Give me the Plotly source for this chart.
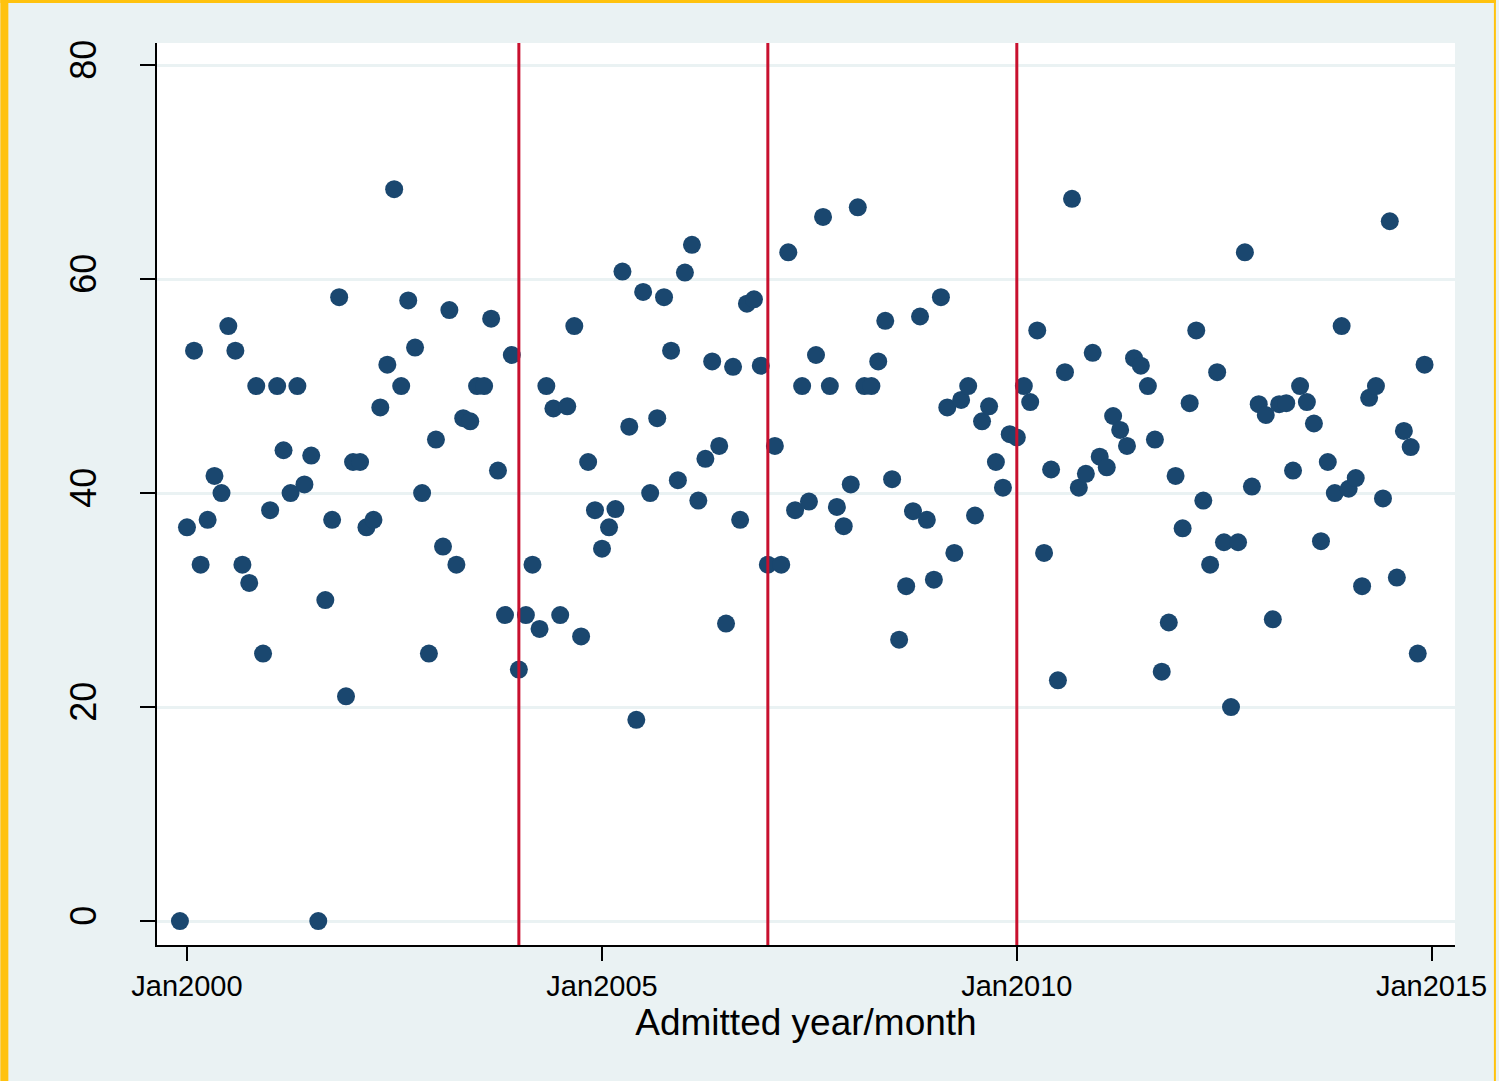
import pandas as pd
import plotly.graph_objects as go

start_month = "1999-12-01"
values = [
    0, 36.8, 53.3, 33.3, 37.5, 41.6, 40, 55.6, 53.3, 33.3, 31.6, 50, 25, 38.4, 50, 44, 40, 50, 40.8, 43.5,
    0, 30, 37.5, 58.3, 21, 42.9, 42.9, 36.8, 37.5, 48, 52, 68.4, 50, 58, 53.6, 40, 25, 45, 35,
    57.1, 33.3, 47, 46.7, 50, 50, 56.3, 42.1, 28.6, 52.9, 23.5,
    28.6, 33.3, 27.3, 50, 47.9, 28.6, 48.1, 55.6, 26.6, 42.9, 38.4, 34.8,
    36.8, 38.5, 60.7, 46.2, 18.8, 58.8, 40, 47, 58.3, 53.3, 41.2, 60.6, 63.2, 39.3, 43.2, 52.3, 44.4, 27.8,
    51.8, 37.5, 57.7, 58.1, 51.9, 33.3,
    44.4, 33.3, 62.5, 38.4, 50, 39.2, 52.9, 65.8, 50, 38.7, 36.9, 40.8, 66.7, 50, 50, 52.3, 56.1, 41.3,
    26.3, 31.3, 38.3, 56.5, 37.5, 31.9, 58.3, 48, 34.4, 48.7, 50, 37.9, 46.7, 48.1, 42.9, 40.5, 45.5, 45.2,
    50, 48.5, 55.2, 34.4, 42.2, 22.5, 51.3, 67.5, 40.5, 41.8, 53.1, 43.4, 42.4, 47.2, 45.9, 44.4, 52.6,
    51.9, 50, 45, 23.3, 27.9, 41.6, 36.7, 48.4, 55.2, 39.3, 33.3, 51.3, 35.4, 20, 35.4, 62.5, 40.6, 48.3,
    47.3, 28.2, 48.3, 48.4, 42.1, 50, 48.5, 46.5, 35.5, 42.9, 40, 55.6, 40.4, 41.4, 31.3, 48.9, 50, 39.5,
    65.4, 32.1, 45.8, 44.3, 25, 52,
]
dates = pd.date_range(start_month, periods=len(values), freq="MS")

vline_dates = ["2004-01-01", "2007-01-01", "2010-01-01"]
xtick_vals = ["2000-01-01", "2005-01-01", "2010-01-01", "2015-01-01"]
xtick_text = ["Jan2000", "Jan2005", "Jan2010", "Jan2015"]
ytick_vals = [0, 20, 40, 60, 80]

W, H = 1499, 1081
L, R, T, B = 157, 41, 43, 136
pw, ph = W - L - R, H - T - B

def px2x(px):
    return (px - L) / pw

def py2y(py):
    return (H - B - py) / ph

fig = go.Figure()
fig.add_trace(go.Scatter(
    x=dates, y=values, mode="markers",
    marker=dict(color="#1A476F", size=18, line=dict(width=0)),
    hoverinfo="x+y", showlegend=False,
))

shapes = []
for d in vline_dates:
    shapes.append(dict(type="line", xref="x", yref="paper", x0=d, x1=d, y0=0, y1=1,
                       line=dict(color="#C8102E", width=3), layer="above"))
# yellow frame edges
border = "#FFC20E"
shapes.append(dict(type="rect", xref="paper", yref="paper", x0=px2x(0), x1=px2x(8),
                   y0=py2y(H), y1=py2y(0), fillcolor=border, line=dict(width=0), layer="above"))
shapes.append(dict(type="rect", xref="paper", yref="paper", x0=px2x(0), x1=px2x(W),
                   y0=py2y(3), y1=py2y(0), fillcolor=border, line=dict(width=0), layer="above"))
shapes.append(dict(type="rect", xref="paper", yref="paper", x0=px2x(1497), x1=px2x(W),
                   y0=py2y(H), y1=py2y(0), fillcolor=border, line=dict(width=0), layer="above"))

font = "Liberation Sans, Arial, Helvetica, sans-serif"
fig.update_layout(
    width=W, height=H,
    margin=dict(l=L, r=R, t=T, b=B, pad=0),
    paper_bgcolor="#EAF2F3",
    plot_bgcolor="white",
    shapes=shapes,
    font=dict(family=font, color="black"),
    xaxis=dict(
        type="date",
        range=["1999-08-22", "2015-04-14"],
        tickmode="array", tickvals=xtick_vals, ticktext=xtick_text,
        ticks="outside", ticklen=14, tickwidth=2, tickcolor="black",
        tickfont=dict(size=29, family=font, color="black"),
        showline=True, linecolor="black", linewidth=2,
        showgrid=False, zeroline=False,
        title=dict(text="Admitted year/month", font=dict(size=37, family=font, color="black"), standoff=4),
    ),
    yaxis=dict(
        range=[-2.24, 82.06],
        tickmode="array", tickvals=ytick_vals,
        ticks="outside", ticklen=15, tickwidth=2, tickcolor="black",
        tickangle=-90,
        tickfont=dict(size=36, family=font, color="black"),
        showline=True, linecolor="black", linewidth=2,
        showgrid=True, gridcolor="#EAF2F3", gridwidth=3,
        zeroline=False,
        ticklabelstandoff=30,
    ),
)

fig.write_html("out.html", config={"displayModeBar": False},
               post_script="document.body.style.margin='0';")
